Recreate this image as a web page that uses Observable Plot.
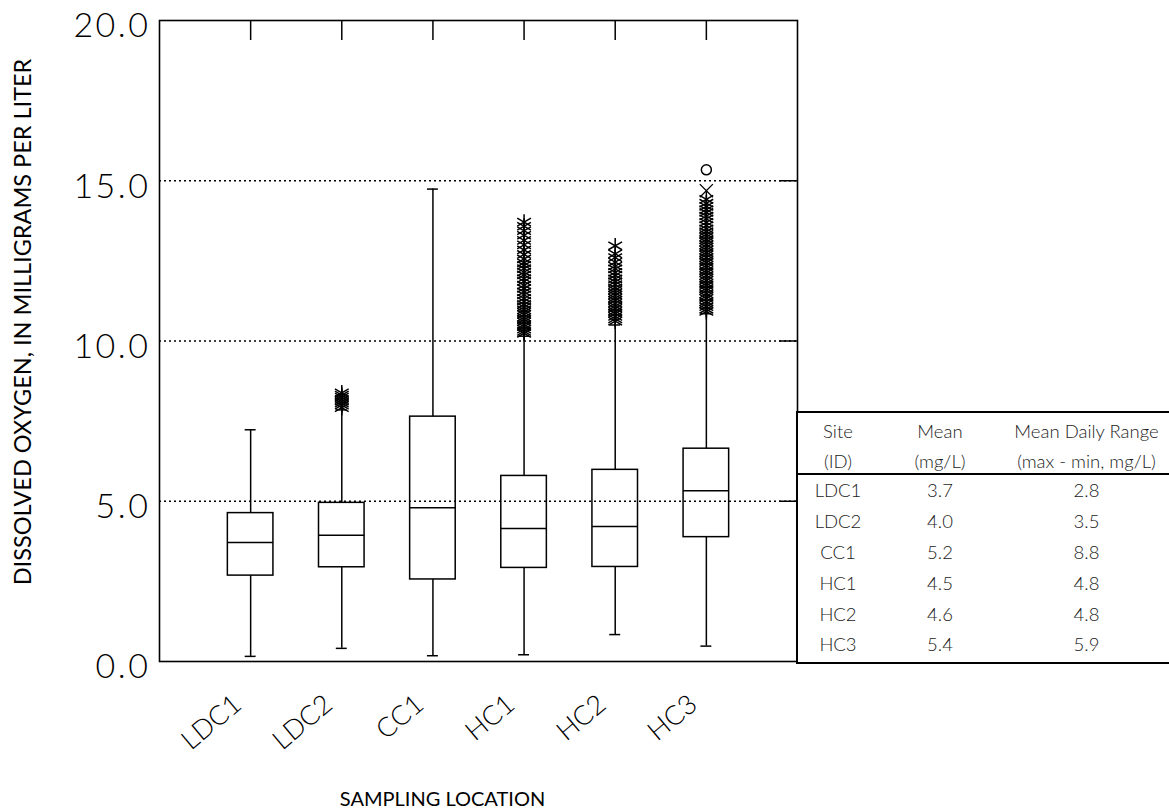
<!DOCTYPE html>
<html>
<head>
<meta charset="utf-8">
<script src="https://cdn.jsdelivr.net/npm/d3@7"></script>
<script src="https://cdn.jsdelivr.net/npm/@observablehq/plot@0.6"></script>
<style>
  html, body { margin: 0; padding: 0; background: #fff; }
  #wrap { position: relative; width: 1169px; height: 809px; font-family: Lato, "Open Sans", sans-serif; }
  #tbl { position: absolute; left: 796px; top: 411px; width: 373px; height: 249px;
         border-top: 2px solid #000; border-left: 2px solid #000; border-bottom: 2px solid #000;
         box-sizing: content-box; background: #fff; }
  #tbl table { border-collapse: collapse; width: 100%; font-family: Lato, sans-serif; font-size: 18.5px; color: #1a1a1a; }
  #tbl td, #tbl th { padding: 0; text-align: center; font-weight: 300; }
  #tbl thead th { height: 30px; line-height: 30px; }
  #tbl thead th span { position: relative; top: 3px; }
  #tbl thead tr:last-child th { border-bottom: 2.5px solid #000; }
  #tbl tbody td { height: 30.8px; line-height: 30px; }
  g[aria-label="y-axis tick label"] text { letter-spacing: 2.5px; }
</style>
</head>
<body>
<div id="wrap"><div id="chart"></div><div id="tbl"></div></div>
<script>
// ---- data ----
const sites = ["LDC1", "LDC2", "CC1", "HC1", "HC2", "HC3"];
const whiskerLow  = [0.16, 0.41, 0.18, 0.21, 0.84, 0.48];
const q1          = [2.68, 2.94, 2.56, 2.92, 2.95, 3.88];
const median      = [3.71, 3.94, 4.80, 4.15, 4.21, 5.33];
const q3          = [4.63, 4.95, 7.64, 5.79, 5.98, 6.64];
const whiskerHigh = [7.23, 7.85, 14.74, 10.15, 10.5, 10.85];

const outliersLDC2 = [7.92, 8.0, 8.06, 8.12, 8.18, 8.25, 8.31, 8.38];
const outliersHC1 = [10.24, 10.3, 10.37, 10.45, 10.51, 10.6, 10.67, 10.74, 10.83, 10.9, 10.97, 11.06, 11.14,
  11.24, 11.33, 11.44, 11.53, 11.64, 11.74, 11.86, 11.95, 12.06, 12.15, 12.26, 12.36, 12.44, 12.56,
  12.7, 12.84, 13.0, 13.14, 13.3, 13.44, 13.58, 13.71];
const outliersHC2 = [10.62, 10.69, 10.77, 10.86, 10.93, 11.02, 11.09, 11.18, 11.27, 11.34, 11.43, 11.5,
  11.59, 11.66, 11.76, 11.85, 11.94, 12.05, 12.14, 12.25, 12.34, 12.46, 12.6, 12.72, 12.97];
const outliersHC3 = [10.92, 10.99, 11.07, 11.16, 11.23, 11.33, 11.4, 11.47, 11.57, 11.64, 11.73, 11.8,
  11.89, 11.96, 12.04, 12.13, 12.2, 12.29, 12.36, 12.45, 12.52, 12.6, 12.69, 12.76, 12.84, 12.93,
  13.0, 13.09, 13.16, 13.25, 13.33, 13.41, 13.5, 13.6, 13.7, 13.81, 13.9, 14.01, 14.1, 14.2, 14.3, 14.42];
const timesHC3 = [14.69];
const circleHC3 = [15.34];

const yTicks = [0, 5, 10, 15, 20];
const yGrid = [5, 10, 15];

const tableSite  = ["LDC1", "LDC2", "CC1", "HC1", "HC2", "HC3"];
const tableMean  = ["3.7", "4.0", "5.2", "4.5", "4.6", "5.4"];
const tableRange = ["2.8", "3.5", "8.8", "4.8", "4.8", "5.9"];

// ---- derived tables ----
const boxes = sites.map((s, k) => ({site: s, i: k + 1, low: whiskerLow[k], q1: q1[k], med: median[k], q3: q3[k], high: whiskerHigh[k]}));
const idx = boxes.map(d => d.i);
const asterisks = [
  ...outliersLDC2.map(v => ({i: 2, v})),
  ...outliersHC1.map(v => ({i: 4, v})),
  ...outliersHC2.map(v => ({i: 5, v})),
  ...outliersHC3.map(v => ({i: 6, v}))
];
const timesPts = timesHC3.map(v => ({i: 6, v}));
const circlePts = circleHC3.map(v => ({i: 6, v}));

const W = 0.25, CAP = 0.06;

const chart = Plot.plot({
  width: 1169, height: 809,
  marginLeft: 159, marginRight: 372, marginTop: 20, marginBottom: 148,
  style: {fontFamily: "Lato, sans-serif", color: "#000", background: "#fff"},
  x: {type: "linear", domain: [0, 7], axis: null},
  y: {type: "linear", domain: [0, 20], axis: null},
  marks: [
    Plot.ruleY(yGrid, {stroke: "#000", strokeWidth: 1.3, strokeDasharray: "2,3"}),
    Plot.tickY(yGrid, {stroke: "#000", strokeWidth: 1.5, insetLeft: 620}),
    Plot.tickX(idx, {x: d => d, stroke: "#000", strokeWidth: 1.5, insetBottom: 621}),
    Plot.ruleX(boxes, {x: "i", y1: "low", y2: "q1", stroke: "#000", strokeWidth: 1.5}),
    Plot.ruleX(boxes, {x: "i", y1: "q3", y2: "high", stroke: "#000", strokeWidth: 1.5}),
    Plot.ruleY(boxes, {y: "low", x1: d => d.i - CAP, x2: d => d.i + CAP, stroke: "#000", strokeWidth: 1.5}),
    Plot.ruleY(boxes, {y: "high", x1: d => d.i - CAP, x2: d => d.i + CAP, stroke: "#000", strokeWidth: 1.5}),
    Plot.rect(boxes, {x1: d => d.i - W, x2: d => d.i + W, y1: "q1", y2: "q3", fill: "none", stroke: "#000", strokeWidth: 1.5}),
    Plot.ruleY(boxes, {y: "med", x1: d => d.i - W, x2: d => d.i + W, stroke: "#000", strokeWidth: 1.5}),
    Plot.dot(asterisks, {x: "i", y: "v", symbol: "asterisk", r: 7.5, stroke: "#000", strokeWidth: 1.5}),
    Plot.dot(timesPts, {x: "i", y: "v", symbol: "times", r: 6, stroke: "#000", strokeWidth: 1.3}),
    Plot.dot(circlePts, {x: "i", y: "v", symbol: "circle", r: 5, stroke: "#000", strokeWidth: 1.5, fill: "none"}),
    Plot.frame({stroke: "#000", strokeWidth: 1.6}),
    Plot.axisY({ticks: yTicks, tickSize: 0, tickPadding: 9, dy: 6, tickFormat: d3.format(".1f"), fontSize: 34, fontWeight: 300, fill: "#000", label: null}),
    Plot.axisX({ticks: idx, tickFormat: i => sites[i - 1], tickSize: 0, tickPadding: 39, dx: -13, tickRotate: -40, textAnchor: "end", fontSize: 27, fontWeight: 300, fill: "#000", label: null}),
    Plot.text(["DISSOLVED OXYGEN, IN MILLIGRAMS PER LITER"], {frameAnchor: "left", textAnchor: "middle", dx: -136, dy: -19, rotate: -90, fontSize: 23.5, fill: "#000", text: d => d}),
    Plot.text(["SAMPLING LOCATION"], {frameAnchor: "bottom", textAnchor: "middle", dx: -36, dy: 144, fontSize: 20, fill: "#000", text: d => d})
  ]
});
document.getElementById("chart").appendChild(chart);

// ---- table ----
const tbl = d3.select("#tbl").append("table");
const colgroup = tbl.append("colgroup");
colgroup.append("col").style("width", "80px");
colgroup.append("col").style("width", "124px");
colgroup.append("col");
const thead = tbl.append("thead");
const h1 = thead.append("tr");
["Site", "Mean", "Mean Daily Range"].forEach(t => h1.append("th").append("span").text(t));
const h2 = thead.append("tr");
["(ID)", "(mg/L)", "(max - min, mg/L)"].forEach(t => h2.append("th").append("span").text(t));
const tbody = tbl.append("tbody");
tableSite.forEach((s, k) => {
  const tr = tbody.append("tr");
  tr.append("td").text(s);
  tr.append("td").text(tableMean[k]);
  tr.append("td").text(tableRange[k]);
});
</script>
</body>
</html>
